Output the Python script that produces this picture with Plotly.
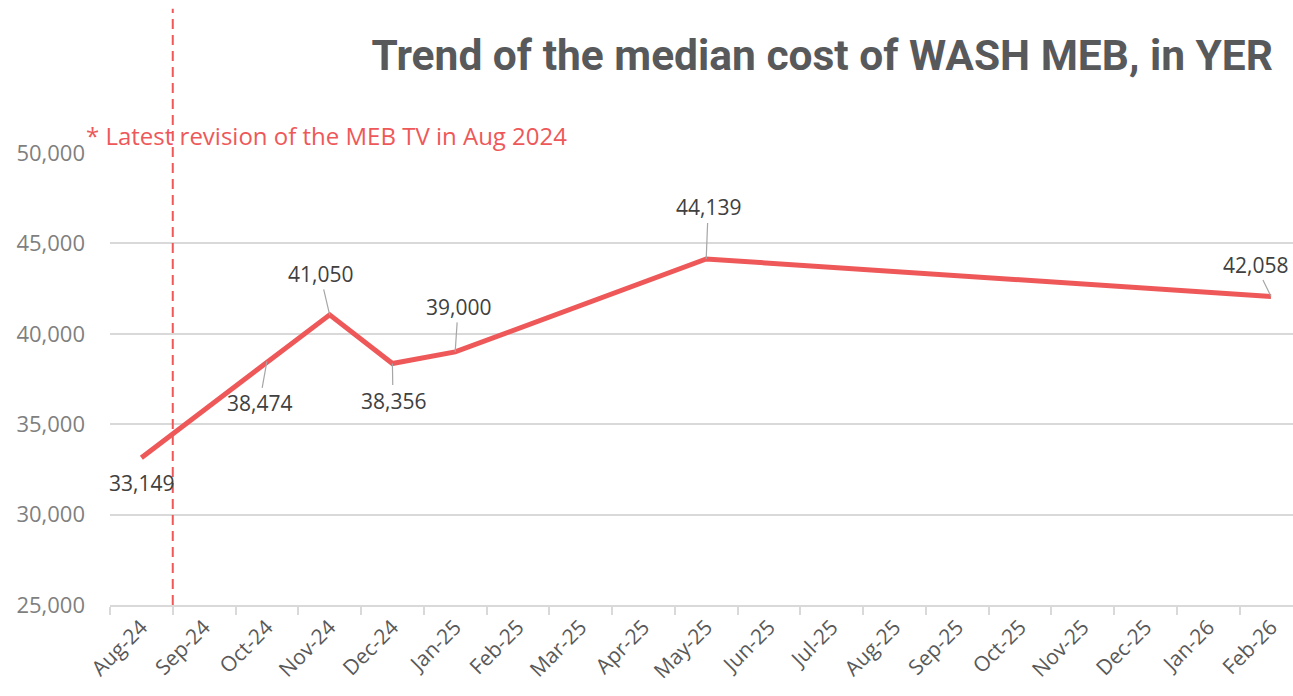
import plotly.graph_objects as go

months = ["Aug-24", "Sep-24", "Oct-24", "Nov-24", "Dec-24", "Jan-25", "Feb-25",
          "Mar-25", "Apr-25", "May-25", "Jun-25", "Jul-25", "Aug-25", "Sep-25",
          "Oct-25", "Nov-25", "Dec-25", "Jan-26", "Feb-26"]
wash_meb_cost = [33149, None, 38474, 41050, 38356, 39000, None, None, None, 44139,
                 None, None, None, None, None, None, None, None, 42058]
# label offsets (pixels) from each point: (ax, ay)
label_offsets = [(0, 25), None, (-7.5, 42), (-9.6, -41), (0.6, 37), (3, -45), None, None, None,
                 (2, -51.5), None, None, None, None, None, None, None, None, (-15.7, -32)]
revision_month_boundary = 0.5  # between Aug-24 and Sep-24

RED = "#EE5859"
FONT = "Open Sans, Noto Sans, sans-serif"

W, H = 1293, 696

fig = go.Figure()
fig.add_trace(go.Scatter(
    x=months, y=wash_meb_cost, mode="lines", connectgaps=True,
    line=dict(color=RED, width=5), hoverinfo="x+y", showlegend=False,
))

for i, (m, v) in enumerate(zip(months, wash_meb_cost)):
    if v is None:
        continue
    off = label_offsets[i]
    txt = f"{v:,}"
    if i == 0:
        fig.add_annotation(x=m, y=v, text=txt, showarrow=False, yshift=-off[1],
                           font=dict(family=FONT, size=21, color="#404040"))
    else:
        fig.add_annotation(x=m, y=v, text=txt, showarrow=True, arrowhead=0,
                           arrowwidth=1.2, arrowcolor="#A6A6A6", standoff=0,
                           ax=off[0], ay=off[1],
                           font=dict(family=FONT, size=21, color="#404040"))

fig.add_shape(type="line", xref="x", yref="paper",
              x0=revision_month_boundary, x1=revision_month_boundary, y0=0, y1=1.319,
              line=dict(color=RED, width=2, dash="10px,6px"))

fig.add_annotation(xref="paper", yref="paper", x=-0.022, y=1.038, xanchor="left",
                   yanchor="middle", showarrow=False,
                   text="* Latest revision of the MEB TV in Aug 2024",
                   font=dict(family=FONT, size=24, color=RED))

fig.update_layout(
    width=W, height=H,
    margin=dict(l=110, r=0, t=152.5, b=91, autoexpand=False),
    paper_bgcolor="white", plot_bgcolor="white",
    title=dict(text="<b>Trend of the median cost of WASH MEB, in YER</b>",
               xref="container", yref="container", x=1273 / W, xanchor="right",
               y=1 - 55 / H, yanchor="middle",
               font=dict(family="Roboto, sans-serif", size=42.5, color="#58595B")),
    xaxis=dict(type="category", range=[-0.5, 18.35], tickson="boundaries", automargin=False,
               showgrid=False, showline=True, linecolor="#D9D9D9", linewidth=1.5,
               ticks="outside", ticklen=8, tickcolor="#D9D9D9", tickwidth=1.5,
               tickangle=-45, tickfont=dict(family=FONT, size=21, color="#595959")),
    yaxis=dict(range=[25000, 50000], tickvals=[25000, 30000, 35000, 40000, 45000, 50000],
               tickformat=",", showgrid=True, gridcolor="#D9D9D9", gridwidth=1.5,
               automargin=False, zeroline=False, showline=False, ticklabelstandoff=24,
               tickfont=dict(family=FONT, size=22, color="#7F7F7F")),
)

# remove the browser's default 8px body margin so the figure fills the window exactly
fig.write_html("out.html", config={"displayModeBar": False},
               post_script="document.body.style.margin='0';document.body.style.overflow='hidden';")
